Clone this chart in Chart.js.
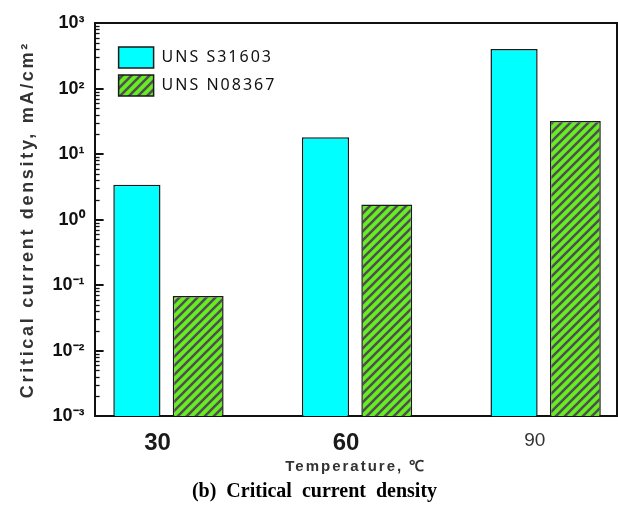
<!DOCTYPE html>
<html><head><meta charset="utf-8">
<script src="https://cdn.jsdelivr.net/npm/chart.js@4.4.0/dist/chart.umd.min.js"></script>
<style>html,body{margin:0;padding:0;background:#fff}canvas{display:block}</style>
</head><body>
<canvas id="c" width="618" height="510"></canvas>
<script>
// ---- data ----
const categories = [30, 60, 90];
const categoryLabels = ['30', '60', '90'];
const seriesNames = ['UNS S31603', 'UNS N08367'];
const s31603 = [3.4, 18, 400];
const n08367 = [0.068, 1.7, 32];
const yTicks = [0.001, 0.01, 0.1, 1, 10, 100, 1000];
const yTickLabels = ['10⁻³', '10⁻²', '10⁻¹', '10⁰', '10¹', '10²', '10³'];
const minorMultipliers = [2, 3, 4, 5, 6, 7, 8, 9];

const SANS = "'Liberation Sans', Arial, sans-serif";

function hatch() {
  const n = 9;
  const c = document.createElement('canvas');
  c.width = n; c.height = n;
  const g = c.getContext('2d');
  g.fillStyle = '#66ee22';
  g.fillRect(0, 0, n, n);
  g.strokeStyle = '#505050';
  g.lineWidth = 2.6;
  g.beginPath();
  g.moveTo(-2, n + 2); g.lineTo(n + 2, -2);
  g.moveTo(-2, 2); g.lineTo(2, -2);
  g.moveTo(n - 2, n + 2); g.lineTo(n + 2, n - 2);
  g.stroke();
  return g.createPattern(c, 'repeat');
}

function spaced(obj, name, px) {
  if (!obj || obj['__sp_' + name]) return;
  const orig = obj[name];
  obj[name] = function (...args) {
    const ctx = this.ctx;
    ctx.save();
    try { ctx.letterSpacing = px + 'px'; } catch (e) {}
    const r = orig.apply(this, args);
    ctx.restore();
    return r;
  };
  obj['__sp_' + name] = true;
}

const tweaks = {
  id: 'tweaks',
  afterLayout(chart) {
    const a = chart.chartArea, lg = chart.legend;
    if (lg) {
      lg.left = a.left + 17; lg.top = a.top + 17;
      lg.right = a.right; lg.bottom = a.bottom;
    }
    spaced(chart.scales.y, 'drawTitle', 2.7);
    spaced(chart.scales.x, 'drawTitle', 2);
    spaced(lg, 'draw', 2);
  },
  afterDatasetsDraw(chart) {
    const ctx = chart.ctx, a = chart.chartArea, y = chart.scales.y;
    ctx.save();
    ctx.strokeStyle = '#111';
    ctx.lineWidth = 2;
    yTicks.forEach(v => {
      const p = Math.round(y.getPixelForValue(v));
      ctx.beginPath(); ctx.moveTo(a.left, p); ctx.lineTo(a.left + 9, p); ctx.stroke();
    });
    ctx.lineWidth = 1.3;
    yTicks.slice(0, -1).forEach(d => {
      minorMultipliers.forEach(m => {
        const p = Math.round(y.getPixelForValue(d * m)) + 0.5;
        ctx.beginPath(); ctx.moveTo(a.left, p); ctx.lineTo(a.left + 5, p); ctx.stroke();
      });
    });
    ctx.lineWidth = 2;
    ctx.beginPath();
    ctx.moveTo(a.left, a.top); ctx.lineTo(a.right, a.top); ctx.lineTo(a.right, a.bottom);
    ctx.stroke();
    ctx.restore();
  }
};

new Chart(document.getElementById('c'), {
  type: 'bar',
  data: {
    datasets: [
      { label: seriesNames[0], data: categories.map((c, i) => ({ x: c, y: s31603[i] })),
        backgroundColor: '#00ffff', borderColor: '#1a1a1a', borderWidth: 1.5, barPercentage: 0.77 },
      { label: seriesNames[1], data: categories.map((c, i) => ({ x: c, y: n08367[i] })),
        backgroundColor: hatch(), borderColor: '#1a1a1a', borderWidth: 1.5, barPercentage: 0.83 }
    ]
  },
  options: {
    responsive: false, animation: false, devicePixelRatio: 1,
    categoryPercentage: 0.65,
    layout: { padding: { left: 12, right: 1, top: 23, bottom: 3 } },
    scales: {
      x: {
        type: 'linear', min: 18.4, max: 101.5, offset: false,
        grid: { display: false, drawTicks: false },
        border: { display: true, color: '#111', width: 2 },
        afterBuildTicks: s => { s.ticks = categories.map(v => ({ value: v })); },
        ticks: {
          padding: 13, labelOffset: -10, autoSkip: false, maxRotation: 0,
          callback: v => { const i = categories.indexOf(v); return i >= 0 ? categoryLabels[i] : ''; },
          font: c => (c.tick && c.tick.value === 90) ? { family: SANS, size: 19, weight: 'normal' } : { family: SANS, size: 24, weight: 'bold' },
          color: c => (c.tick && c.tick.value === 90) ? '#333' : '#1a1a1a'
        },
        title: { display: true, text: 'Temperature, ℃', font: { family: SANS, size: 15, weight: 'bold' }, color: '#333', padding: { top: -13, bottom: 2 } }
      },
      y: {
        type: 'logarithmic', min: 0.001, max: 1000,
        grid: { display: false, drawTicks: false },
        border: { display: true, color: '#111', width: 2 },
        afterBuildTicks: s => { s.ticks = yTicks.map(v => ({ value: v })); },
        ticks: {
          autoSkip: false, padding: 10,
          callback: v => { const i = yTicks.findIndex(t => Math.abs(Math.log10(t) - Math.log10(v)) < 1e-6); return i >= 0 ? yTickLabels[i] : ''; },
          font: { family: SANS, size: 18, weight: 'bold' }, color: '#111'
        },
        title: { display: true, text: 'Critical current density, mA/cm²', font: { family: SANS, size: 18, weight: 'bold' }, color: '#333', padding: { top: 5, bottom: 4 } }
      }
    },
    plugins: {
      legend: {
        position: 'chartArea', align: 'start',
        labels: { boxWidth: 35, boxHeight: 21, padding: 7, color: '#111', font: { family: "'Noto Sans', sans-serif", size: 16 } }
      },
      title: {
        display: true, position: 'bottom', text: '(b)  Critical  current  density',
        font: { family: "'Liberation Serif', 'Times New Roman', serif", size: 20, weight: 'bold' },
        color: '#000', padding: { top: 2, bottom: 3 }
      },
      tooltip: { enabled: false }
    }
  },
  plugins: [tweaks]
});
</script>
</body></html>
